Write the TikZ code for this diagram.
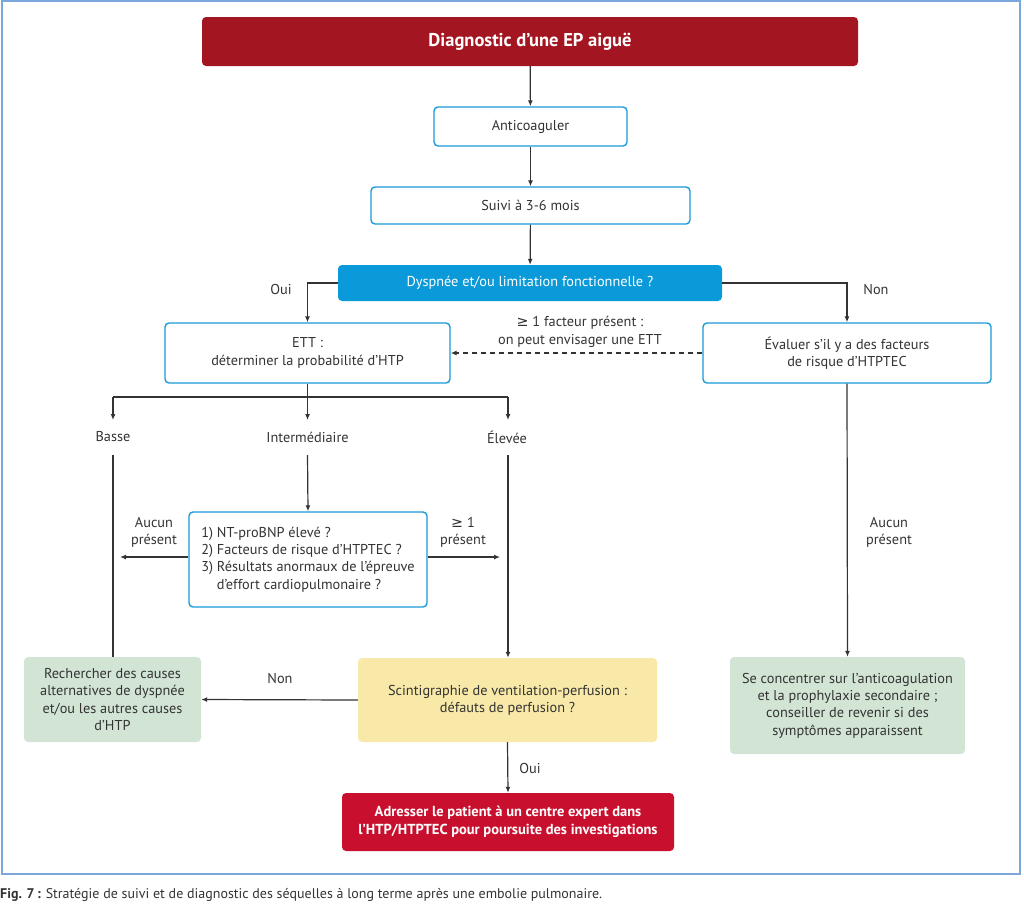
\documentclass[tikz,border=0pt]{standalone}
\usepackage{fontspec}
\setmainfont{PT Sans}
\newfontfamily\symfont{DejaVu Sans}
\usetikzlibrary{arrows.meta,positioning}

\definecolor{framebl}{HTML}{7BA7DC}
\definecolor{boxbl}{HTML}{1A9BD7}
\definecolor{fillbl}{HTML}{0B9AD9}
\definecolor{darkred}{HTML}{A31621}
\definecolor{brightred}{HTML}{C8102E}
\definecolor{paleyel}{HTML}{F8E9A9}
\definecolor{palegrn}{HTML}{D2E5D5}
\definecolor{txt}{HTML}{333333}

\newcommand{\gesym}{{\symfont\char"2265}}

\begin{document}
\begin{tikzpicture}[
    x=1pt, y=-1pt,
    every node/.style={font=\fontsize{14.3}{17.3}\selectfont, text=txt, align=center, inner sep=0pt},
    box/.style={draw=boxbl, line width=1.4pt, rounded corners=4pt, fill=white},
    solid box/.style={rounded corners=4pt, draw=none},
    lbl/.style={},
    conn/.style={draw=txt, line width=1.2pt},
    arr/.style={conn, -{Latex[length=6pt,width=5pt]}}
]
\useasboundingbox (0,0) rectangle (1024,903);
\draw[framebl, line width=2pt] (2,1) rectangle (1020,874);

% main column
\node[solid box, fill=darkred, minimum width=656pt, minimum height=49pt,
      text=white, font=\fontsize{18.5}{22}\selectfont\bfseries] (diag) at (530,41.5) {Diagnostic d'une EP aiguë};
\node[box, minimum width=193pt, minimum height=39pt] (anti) at (530.5,126.5) {Anticoaguler};
\node[box, minimum width=319pt, minimum height=37pt] (suivi) at (530.5,205.5) {Suivi à 3-6 mois};
\node[solid box, fill=fillbl, minimum width=384pt, minimum height=36pt, text=white] (dysp) at (530,283) {Dyspnée et/ou limitation fonctionnelle ?};

\node[box, minimum width=285pt, minimum height=60pt] (ett) at (307.5,353) {ETT :\\déterminer la probabilité d'HTP};
\node[box, minimum width=288pt, minimum height=60pt] (eval) at (847,353) {Évaluer s'il y a des facteurs\\de risque d'HTPTEC};

\node[lbl] (oui1) at (281,289) {Oui};
\node[lbl] (non1) at (876,289) {Non};
\node[lbl] (fact) at (580,332) {\gesym{} 1 facteur présent :\\on peut envisager une ETT};

% probabilities
\coordinate (split) at (307.5,397);
\coordinate (sbas) at (113,397);
\coordinate (sele) at (508,397);
\coordinate (bas end) at (113,420);
\coordinate (inter end) at (307.5,420);
\coordinate (ele end) at (508,420);
\node[lbl] (basse) at (113,437) {Basse};
\node[lbl] (inter) at (307.5,437) {Intermédiaire};
\node[lbl] (elev) at (507,437) {Élevée};
\coordinate (bas start) at (113,455);
\coordinate (inter start) at (307.5,455);
\coordinate (ele start) at (508,455);

\node[box, minimum width=238pt, minimum height=95pt, align=left] (nt) at (308,559.5)
    {1) NT-proBNP élevé ?\\2) Facteurs de risque d'HTPTEC ?\\3) Résultats anormaux de l'épreuve\\\hphantom{3) }d'effort cardiopulmonaire ?};
\coordinate (ntl) at (120,557);
\coordinate (ntr) at (500,557);
\node[lbl] (aucun1) at (154,532) {Aucun\\présent};
\node[lbl] (plus1) at (463,532) {\gesym{} 1\\présent};

\node[solid box, fill=palegrn, minimum width=177pt, minimum height=85pt] (altc) at (112.5,699.5)
    {Rechercher des causes\\alternatives de dyspnée\\et/ou les autres causes\\d'HTP};
\node[solid box, fill=paleyel, minimum width=299pt, minimum height=84pt] (scin) at (507.5,700)
    {Scintigraphie de ventilation-perfusion :\\défauts de perfusion ?};
\node[lbl] (non2) at (280,678) {Non};
\node[lbl] (oui2) at (530,768) {Oui};
\node[solid box, fill=brightred, minimum width=332pt, minimum height=58pt, text=white,
      font=\fontsize{14.5}{17.5}\selectfont\bfseries] (expert) at (508,822)
    {Adresser le patient à un centre expert dans\\l'HTP/HTPTEC pour poursuite des investigations};

\node[lbl] (aucun2) at (889,532) {Aucun\\présent};
\node[solid box, fill=palegrn, minimum width=235pt, minimum height=97pt] (focus) at (847.5,705.5)
    {Se concentrer sur l'anticoagulation\\et la prophylaxie secondaire ;\\conseiller de revenir si des\\symptômes apparaissent};

% connectors
\draw[arr] (diag) -- (anti);
\draw[arr] (anti) -- (suivi);
\draw[arr] (suivi) -- (dysp);
\draw[arr] (dysp.west) -| (ett.north);
\draw[arr] (dysp.east) -| (eval.north);
\draw[arr, dashed, dash pattern=on 5pt off 4pt] (eval.west) -- (ett.east);
\draw[conn] (ett.south) -- (split);
\draw[conn] (sbas) -- (sele);
\draw[arr] (sbas) -- (bas end);
\draw[arr] (split) -- (inter end);
\draw[arr] (sele) -- (ele end);
\draw[conn] (bas start) -- (bas start |- altc.north);
\draw[arr] (inter start) -- (nt.north);
\draw[arr] (ele start) -- (ele start |- scin.north);
\draw[arr] (nt.west |- ntl) -- (ntl);
\draw[arr] (nt.east |- ntr) -- (ntr);
\draw[arr] (scin.west) -- (altc.east);
\draw[arr] (scin.south) -- (expert.north);
\draw[arr] (eval.south) -- (focus.north);

% caption
\node[anchor=west, font=\fontsize{14}{16}\selectfont, text=txt] (capt) at (0,895)
    {\textbf{Fig. 7\,:} Stratégie de suivi et de diagnostic des séquelles à long terme après une embolie pulmonaire.};
\end{tikzpicture}
\end{document}
